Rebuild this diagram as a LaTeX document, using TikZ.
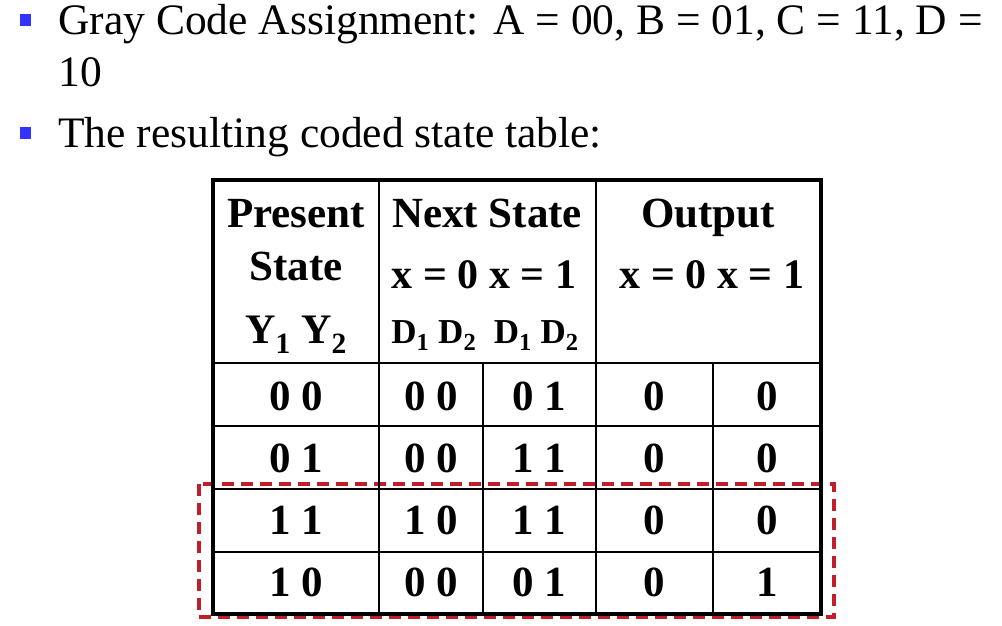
\documentclass[tikz,border=0pt]{standalone}
\usepackage{fontspec}
\setmainfont{Liberation Serif}
\definecolor{bulletblue}{RGB}{51,51,255}
\definecolor{markred}{RGB}{192,30,40}
\newcommand{\bodyfont}{\fontsize{43.5}{52}\selectfont}
\newcommand{\headfont}{\bfseries\fontsize{43}{50}\selectfont}
\newcommand{\smallhead}{\bfseries\fontsize{42}{50}\selectfont}
\newcommand{\cellfont}{\bfseries\fontsize{43}{50}\selectfont}
\tikzset{every picture/.style={line width=0.75pt}}
\tikzset{
  txt/.style={anchor=base west, inner sep=0pt},
  hd/.style={anchor=base, inner sep=0pt},
  outer/.style={line width=4pt},
  inner/.style={line width=2pt},
  highlight/.style={markred, line width=3.2pt, dash pattern=on 12pt off 7pt}
}

\begin{document}
\begin{tikzpicture}[x=1pt,y=1pt,yscale=-1,xscale=1]
        \useasboundingbox (0,0) rectangle (1002,626);

        %Shape: Bullets
        \fill [bulletblue] (20,14) rectangle (31,26);
        \fill [bulletblue] (20,127) rectangle (31,139);

        % Text Node
        \node [txt] (line1) at (58,35) {\bodyfont Gray Code Assignment: A = 00, B = 01, C = 11, D =};
        % Text Node
        \node [txt] (line2) at (58,87) {\bodyfont 10};
        % Text Node
        \node [txt] (line3) at (58,147) {\bodyfont The resulting coded state table:};

        %Shape: Dashed highlight
        \draw [highlight] (199,484) rectangle (834,617);

        %Shape: Table outline
        \draw [inner] (379,180) -- (379,614) ;
        \draw [inner] (596,180) -- (596,614) ;
        \draw [inner] (483,363) -- (483,614) ;
        \draw [inner] (713,363) -- (713,614) ;
        \foreach \y in {363,426,489,552}
          \draw [inner] (213,\y) -- (821,\y) ;
        \draw [outer] (213,180) rectangle (821,614) ;

        % Header
        \node [hd] (present) at (296,227) {\headfont Present};
        \node [hd] (state) at (296,280) {\headfont State};
        \node [hd] (yy) at (296,343) {\smallhead Y\textsubscript{1} Y\textsubscript{2}};
        \node [hd] (next) at (487,227) {\headfont Next State};
        \node [hd] (nx) at (484,288) {\smallhead x = 0 x = 1};
        \node [hd] (dd) at (485,343) {\bfseries\fontsize{35}{42}\selectfont D\textsubscript{1} D\textsubscript{2}\ \ D\textsubscript{1} D\textsubscript{2}};
        \node [hd] (output) at (708,227) {\headfont Output};
        \node [hd] (ox) at (712,288) {\smallhead x = 0 x = 1};

        % Body rows
        \foreach \ps/\na/\nb/\oa/\ob [count=\i] in {0 0/0 0/0 1/0/0, 0 1/0 0/1 1/0/0, 1 1/1 0/1 1/0/0, 1 0/0 0/0 1/0/1} {
          \pgfmathsetmacro{\yb}{410+62.3*(\i-1)}
          \node [hd] (ps\i) at (296,\yb) {\cellfont \ps};
          \node [hd] (na\i) at (431,\yb) {\cellfont \na};
          \node [hd] (nb\i) at (539,\yb) {\cellfont \nb};
          \node [hd] (oa\i) at (654,\yb) {\cellfont \oa};
          \node [hd] (ob\i) at (767,\yb) {\cellfont \ob};
        }
\end{tikzpicture}
\end{document}
